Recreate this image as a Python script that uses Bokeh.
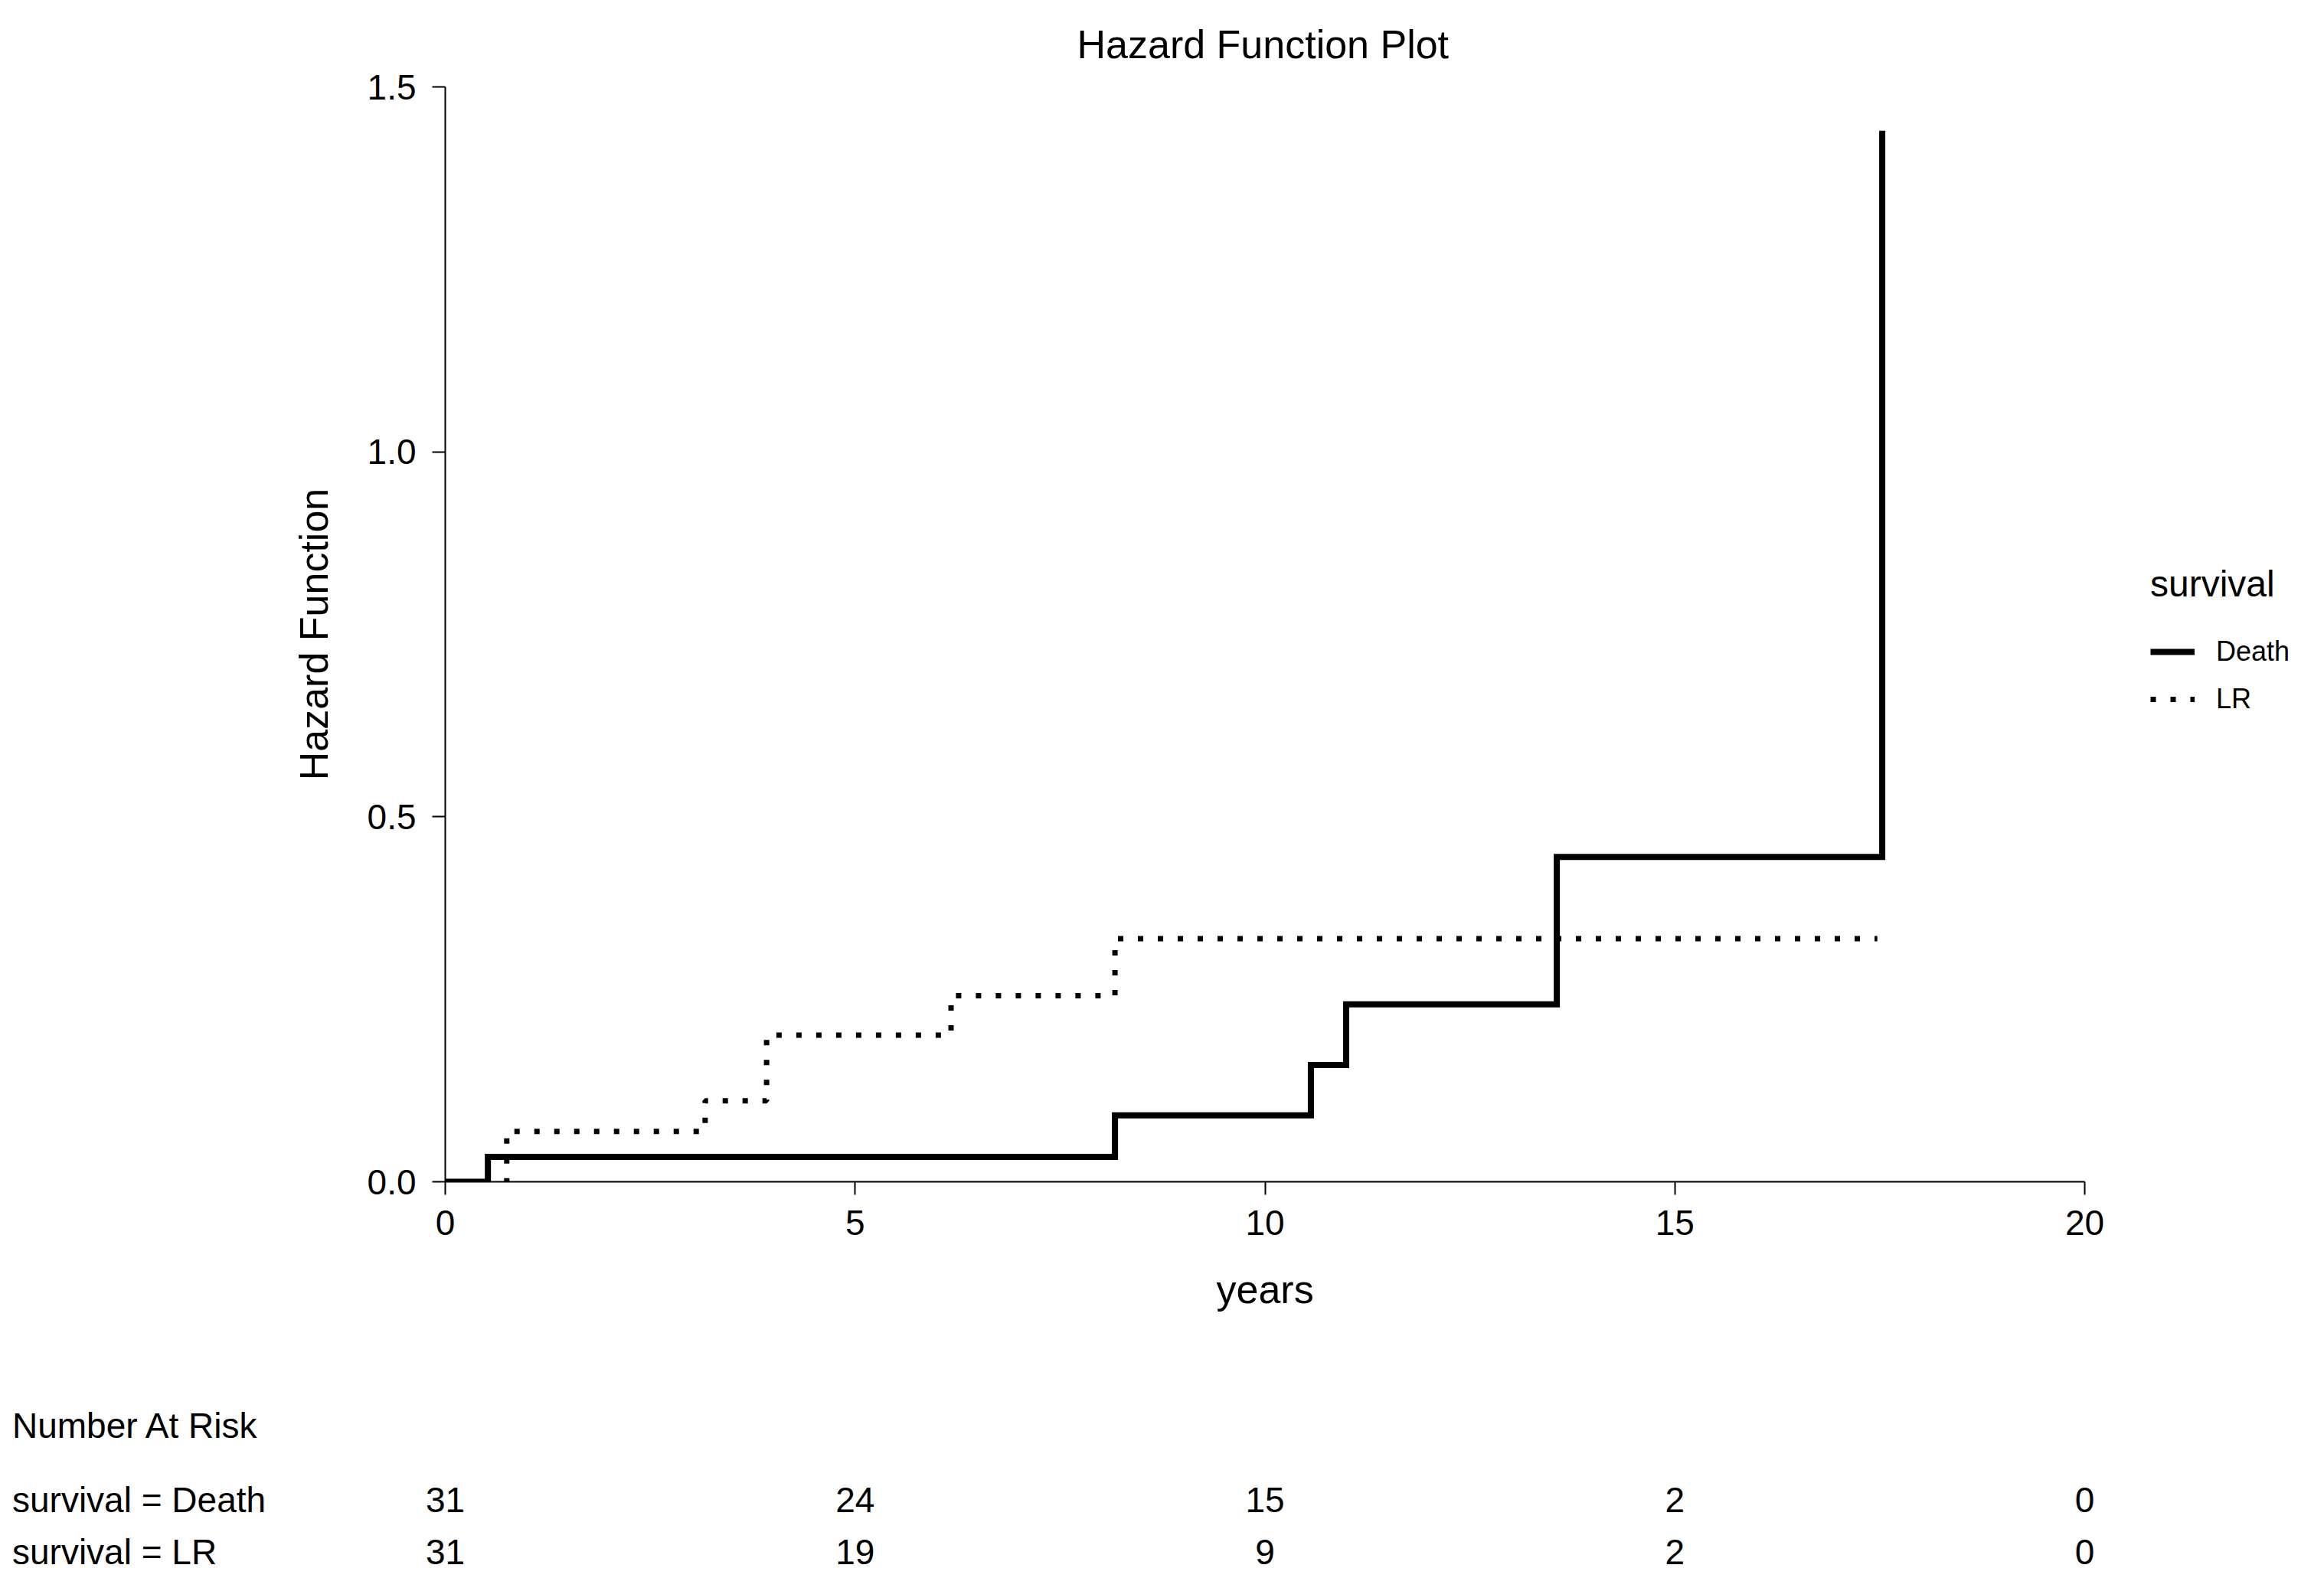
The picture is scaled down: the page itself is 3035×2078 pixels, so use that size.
from bokeh.plotting import figure
from bokeh.layouts import column
from bokeh.models import (ColumnDataSource, Legend, LegendItem, Title,
                          FixedTicker, Range1d)
from bokeh.core.properties import value
from bokeh.embed import file_html
from bokeh.resources import INLINE

FONT = "Liberation Sans"

# ---- data ----
death_years = [0.0, 0.52, 8.17, 10.56, 10.99, 13.56, 17.53]
death_hazard = [0.0, 0.034, 0.091, 0.160, 0.243, 0.445, 1.44]
lr_years = [0.0, 0.75, 3.17, 3.92, 6.17, 8.17, 17.47]
lr_hazard = [0.0, 0.069, 0.111, 0.201, 0.255, 0.333, 0.333]

x_ticks = [0, 5, 10, 15, 20]
y_ticks = [0.0, 0.5, 1.0, 1.5]
y_tick_labels = ["0.0", "0.5", "1.0", "1.5"]

risk_years = [0, 5, 10, 15, 20]
risk_death = [31, 24, 15, 2, 0]
risk_lr = [31, 19, 9, 2, 0]
risk_row_labels = ["Number At Risk", "survival = Death", "survival = LR"]

groups = ["Death", "LR"]
legend_title = "survival"

# ---- layout constants (pixels) ----
W = 3019
H_MAIN = 1772
H_TABLE = 290
FRAME_L, AXIS_R, FRAME_T, FRAME_B = 581, 2722, 113, 1543
X_MAX = 20.0
PX_PER_YEAR = (AXIS_R - FRAME_L) / X_MAX
X_END = (W - FRAME_L) / PX_PER_YEAR          # frame runs to the right edge

# ---- main figure ----
p = figure(width=W, height=H_MAIN, output_backend="svg", toolbar_location=None,
           x_range=Range1d(0, X_END), y_range=Range1d(0, 1.5),
           min_border_left=FRAME_L, min_border_right=0,
           min_border_top=FRAME_T, min_border_bottom=H_MAIN - FRAME_B,
           background_fill_color="white", border_fill_color="white",
           frame_align=False)
p.outline_line_color = None
p.grid.visible = False

p.title.text = "Hazard Function Plot"
p.title.align = "left"
p.title.offset = 825
p.title.text_font = FONT
p.title.text_font_size = "52px"
p.title.text_font_style = "normal"
p.title.text_color = "black"
p.title.standoff = 53

for ax in (p.xaxis[0], p.yaxis[0]):
    ax.axis_line_width = 2
    ax.axis_line_color = "black"
    ax.major_tick_line_width = 2
    ax.major_tick_line_color = "black"
    ax.major_tick_out = 17
    ax.major_tick_in = 0
    ax.minor_tick_line_color = None
    ax.major_label_text_font = FONT
    ax.major_label_text_font_size = "46px"
    ax.major_label_text_color = "black"
    ax.axis_label_text_font = FONT
    ax.axis_label_text_font_size = "52px"
    ax.axis_label_text_font_style = "normal"
    ax.axis_label_text_color = "black"

p.xaxis.bounds = (0, X_MAX)
p.xaxis.ticker = FixedTicker(ticks=x_ticks)
p.xaxis.major_label_standoff = 20

p.yaxis.bounds = (0, 1.5)
p.yaxis.ticker = FixedTicker(ticks=y_ticks)
p.yaxis.major_label_overrides = {t: s for t, s in zip(y_ticks, y_tick_labels)}
p.yaxis.axis_label = "Hazard Function"
p.yaxis.major_label_standoff = 21
p.yaxis.axis_label_standoff = 38

# x-axis title, centred under the 0-20 axis span
p.add_layout(Title(text="years", align="left", offset=1007,
                   text_font=FONT, text_font_size="52px",
                   text_font_style="normal", text_color="black",
                   standoff=75), "below")

# ---- curves ----
r_death = p.step(death_years, death_hazard, mode="after", line_color="black",
                 line_width=8, line_join="miter")
r_lr = p.step(lr_years, lr_hazard, mode="after", line_color="black",
              line_width=7, line_dash="7 19")

legend = Legend(items=[LegendItem(label=groups[0], renderers=[r_death]),
                       LegendItem(label=groups[1], renderers=[r_lr])],
                title=legend_title, location=(2227, 608),
                orientation="vertical", padding=0, margin=0,
                glyph_width=58, glyph_height=44, label_height=44,
                label_standoff=28, spacing=18, title_standoff=39,
                border_line_color=None, background_fill_alpha=0)
legend.title_text_font = FONT
legend.title_text_font_size = "48px"
legend.title_text_font_style = "normal"
legend.title_text_color = "black"
legend.label_text_font = FONT
legend.label_text_font_size = "36px"
legend.label_text_color = "black"
p.add_layout(legend)

# ---- number at risk table (second figure, same horizontal scale) ----
x_start = -FRAME_L / PX_PER_YEAR
t = figure(width=W, height=H_TABLE, output_backend="svg", toolbar_location=None,
           title=None,
           x_range=Range1d(x_start, X_END), y_range=Range1d(H_TABLE, 0),
           x_axis_type=None, y_axis_type=None,
           min_border_left=0, min_border_right=0, min_border_top=0,
           min_border_bottom=0,
           background_fill_color="white", border_fill_color="white",
           frame_align=False)
t.outline_line_color = None
t.grid.visible = False

row_baselines = [89, 186, 254]
label_x = x_start + 15.5 / PX_PER_YEAR
rows_src = ColumnDataSource(dict(x=[label_x] * len(risk_row_labels),
                                 y=row_baselines, text=risk_row_labels))
t.text(x="x", y="y", text="text", source=rows_src, text_align="left",
       text_baseline="alphabetic", text_font=value(FONT),
       text_font_size=value("46px"), text_color="black")

for counts, yb in ((risk_death, row_baselines[1]), (risk_lr, row_baselines[2])):
    src = ColumnDataSource(dict(x=risk_years, y=[yb] * len(risk_years),
                                n=[str(c) for c in counts]))
    t.text(x="x", y="y", text="n", source=src, text_align="center",
           text_baseline="alphabetic", text_font=value(FONT),
           text_font_size=value("46px"), text_color="black")

layout = column(p, t, spacing=0)
open("out.html", "w").write(file_html(layout, INLINE))
